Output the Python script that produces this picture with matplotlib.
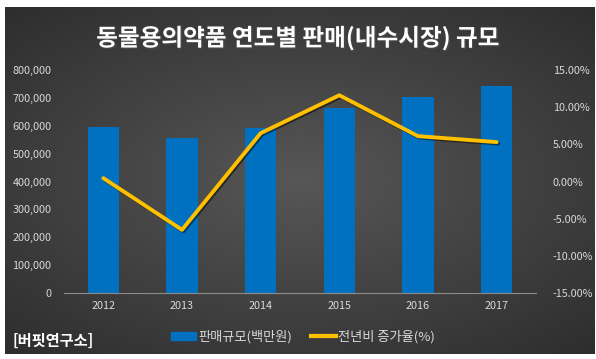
import matplotlib
matplotlib.use("Agg")
import matplotlib.pyplot as plt
import matplotlib.patheffects as pe
from matplotlib.patches import Patch
from matplotlib.lines import Line2D
import numpy as np

plt.rcParams["font.family"] = ["Noto Sans CJK KR", "DejaVu Sans"]

years = ["2012", "2013", "2014", "2015", "2016", "2017"]
sales = [595500, 556000, 592000, 663700, 703000, 742600]   # 판매규모(백만원)
growth = [0.45, -6.5, 6.5, 11.6, 6.1, 5.3]                 # 전년비 증가율(%)

W, H = 596, 359
fig = plt.figure(figsize=(W / 100, H / 100), dpi=100, facecolor="white")

# dark radial gradient background panel
bg = fig.add_axes([5 / W, 1 - 354 / H, 590 / W, 347 / H])
yy, xx = np.mgrid[-1:1:200j, -1:1:300j]
r = np.sqrt((xx * 0.85) ** 2 + (yy * 0.9) ** 2)
shade = 0.34 - 0.17 * np.clip(r, 0, 1.3) / 1.3
bg.imshow(np.dstack([shade] * 3), aspect="auto", extent=[0, 1, 0, 1])
bg.set_axis_off()

ax = fig.add_axes([64 / W, 1 - 293 / H, 472 / W, 223 / H])
ax.patch.set_alpha(0)
x = np.arange(len(years))
ax.bar(x, sales, width=0.4, color="#0070C0", zorder=2)
ax.set_xlim(-0.5, 5.5)
ax.set_ylim(0, 800000)
ax.set_yticks(np.arange(0, 800001, 100000))
ax.set_yticklabels([f"{v:,}" for v in range(0, 800001, 100000)])
ax.set_xticks(x)
ax.set_xticklabels(years)
for s in ["top", "right", "left"]:
    ax.spines[s].set_visible(False)
ax.spines["bottom"].set_color("#8c8c8c")
ax.tick_params(colors="#d9d9d9", labelsize=7.8, length=0)
ax.tick_params(axis="y", pad=9)
ax.tick_params(axis="x", pad=6)

ax2 = ax.twinx()
ax2.plot(x, growth, color="#FFC000", lw=2.8, solid_joinstyle="round",
         solid_capstyle="round", zorder=3,
         path_effects=[pe.SimpleLineShadow(offset=(1, -1), alpha=0.5), pe.Normal()])
ax2.set_ylim(-15, 15)
ax2.set_yticks(np.arange(-15, 15.1, 5))
ax2.set_yticklabels([f"{v:.2f}%" for v in np.arange(-15, 15.1, 5)])
for s in ax2.spines.values():
    s.set_visible(False)
ax2.tick_params(colors="#d9d9d9", labelsize=7.8, length=0, pad=12)

fig.text(0.5, 1 - 38 / H, "동물용의약품 연도별 판매(내수시장) 규모", ha="center", va="center",
         color="white", fontsize=17, fontweight="bold",
         path_effects=[pe.withSimplePatchShadow(offset=(1, -1), alpha=0.6)])

fig.text(13 / W, 1 - 341 / H, "[버핏연구소]", ha="left", va="center",
         color="white", fontsize=11, fontweight="bold")

handles = [Patch(color="#0070C0"), Line2D([0], [0], color="#FFC000", lw=3)]
fig.legend(handles, ["판매규모(백만원)", "전년비 증가율(%)"], loc="center",
           bbox_to_anchor=(0.509, 1 - 337 / H), ncol=2, frameon=False,
           labelcolor="#d9d9d9", fontsize=9.5, handlelength=1.9, handleheight=0.55,
           columnspacing=1.45, handletextpad=0.15)

fig.savefig("out.png", dpi=100, facecolor="white")
